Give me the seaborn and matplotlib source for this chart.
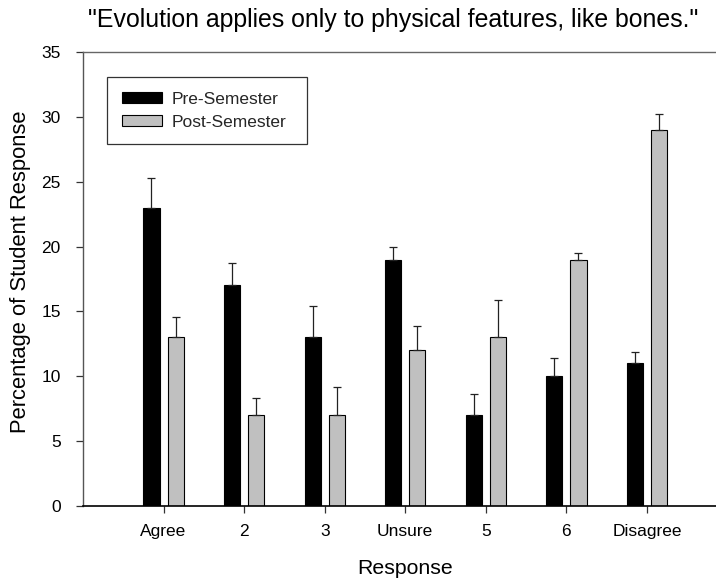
import matplotlib
matplotlib.use("Agg")
import matplotlib.pyplot as plt
import seaborn as sns
import pandas as pd
import numpy as np

categories = ["Agree", "2", "3", "Unsure", "5", "6", "Disagree"]
pre_values = [23, 17, 13, 19, 7, 10, 11]
post_values = [13, 7, 7, 12, 13, 19, 29]
pre_err = [2.3, 1.7, 2.4, 1.0, 1.6, 1.4, 0.9]
post_err = [1.6, 1.3, 2.2, 1.9, 2.9, 0.5, 1.2]
series = ["Pre-Semester", "Post-Semester"]
y_ticks = [0, 5, 10, 15, 20, 25, 30, 35]

df = pd.DataFrame({
    "Response": categories * 2,
    "Value": pre_values + post_values,
    "Err": pre_err + post_err,
    "Series": [series[0]] * len(categories) + [series[1]] * len(categories),
})

sns.set_theme(style="white")
plt.rcParams["font.family"] = ["Liberation Sans", "DejaVu Sans"]

fig = plt.figure(figsize=(7.16, 5.81), dpi=100)
W, H = 716, 581
ax = fig.add_axes([83 / W, (H - 506) / H, (727.5 - 83) / W, (506 - 52) / H])

sns.barplot(data=df, x="Response", y="Value", hue="Series", order=categories,
            hue_order=series, palette=["#000000", "#c0c0c0"], width=0.6, gap=1/3,
            edgecolor="#000000", linewidth=0.8, errorbar=None, ax=ax, legend=True)

# error bars (upper only) at bar centers
bars = [p for p in ax.patches if p.get_height() > 0]
n = len(categories)
all_err = pre_err + post_err
for i, p in enumerate(bars[:2 * n]):
    e = all_err[i]
    xc = p.get_x() + p.get_width() / 2
    h = p.get_height()
    ax.errorbar(xc, h, yerr=[[0], [e]], fmt="none", ecolor="#222222",
                elinewidth=0.9, capsize=2.9, capthick=0.9, zorder=1)

ax.set_xlim(-1, 7)
ax.set_ylim(0, 35)
ax.set_yticks(y_ticks)
ax.set_yticklabels([str(t) for t in y_ticks])

ax.spines["right"].set_visible(False)
ax.spines["top"].set_color("#666666")
ax.spines["top"].set_linewidth(1.0)
ax.spines["left"].set_color("#555555")
ax.spines["left"].set_linewidth(1.0)
ax.spines["bottom"].set_color("#000000")
ax.spines["bottom"].set_linewidth(1.2)

ax.tick_params(axis="both", which="major", direction="out", length=5, width=0.9,
               color="#333333", labelsize=12.5, labelcolor="#000000",
               bottom=True, left=True)
ax.tick_params(axis="x", pad=8)
ax.tick_params(axis="y", pad=11)

ax.set_xlabel("Response", fontsize=15.3, color="#000000")
ax.set_ylabel("Percentage of Student Response", fontsize=15.8, color="#000000")
ax.xaxis.set_label_coords((405 - 83) / (727.5 - 83), -(568 - 506) / (506 - 52))
ax.yaxis.set_label_coords(-(83 - 21) / (727.5 - 83), (506 - 272) / (506 - 52))
ax.xaxis.label.set_va("center")
ax.yaxis.label.set_va("center")

fig.text(393 / W, 1 - 20 / H,
         '"Evolution applies only to physical features, like bones."',
         ha="center", va="center", fontsize=17.9, color="#000000")

handles, labels = ax.get_legend_handles_labels()
leg = ax.legend(handles, labels, loc="upper left",
                bbox_to_anchor=(107 / W, 1 - 146 / H, (307 - 107) / W, (146 - 77) / H),
                bbox_transform=fig.transFigure, mode="expand", borderaxespad=0,
                fontsize=12.5, frameon=True, fancybox=False, edgecolor="#000000",
                handlelength=2.3, handleheight=0.65, handletextpad=0.6,
                labelspacing=0.45, borderpad=0.85, title=None)
leg.get_frame().set_linewidth(0.9)
for h in leg.legend_handles:
    h.set_edgecolor("#000000")
    h.set_linewidth(0.8)

fig.savefig("out.png", dpi=100)
